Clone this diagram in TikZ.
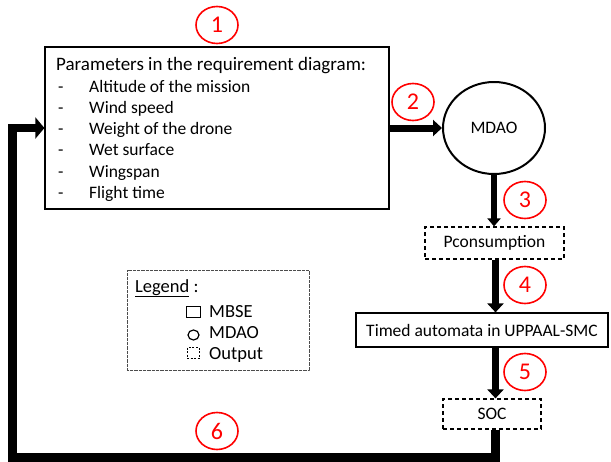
\documentclass[tikz,border=0pt]{standalone}
\usepackage{fontspec}
\setmainfont{Carlito}
\usetikzlibrary{arrows.meta,shapes.geometric}
\begin{document}
\begin{tikzpicture}[x=1pt,y=-1pt,
  box/.style={draw, line width=1.2pt, inner sep=0pt},
  outbox/.style={draw, dash pattern=on 4pt off 3pt, line width=1.2pt, inner sep=0pt},
  num/.style={ellipse, draw=red, line width=1.6pt, text=red, minimum width=42pt, minimum height=37pt, inner sep=0pt, font=\fontsize{24}{24}\selectfont},
  flow/.style={line width=7pt, -{Triangle[length=9pt,width=16pt]}},
  ret/.style={line width=8.5pt, -{Triangle[length=9pt,width=21pt]}},
  lbl/.style={font=\fontsize{17.5}{17.5}\selectfont, inner sep=0pt},
  ttl/.style={font=\fontsize{19}{19}\selectfont, inner sep=0pt},
  leg/.style={font=\fontsize{18.5}{18.5}\selectfont, inner sep=0pt},
]
\useasboundingbox (0,0) rectangle (611,461);
% main parameter box
\node[box, minimum width=344pt, minimum height=162pt] (params) at (217,128) {};
\node[ttl, anchor=base west] (t0) at (56,70.7) {Parameters in the requirement diagram:};
\node[lbl, anchor=base west] (d1) at (58,92.3) {-};
\node[lbl, anchor=base west] (i1) at (89,92.3) {Altitude of the mission};
\node[lbl, anchor=base west] (d2) at (58,113.5) {-};
\node[lbl, anchor=base west] (i2) at (89,113.5) {Wind speed};
\node[lbl, anchor=base west] (d3) at (58,134.7) {-};
\node[lbl, anchor=base west] (i3) at (89,134.7) {Weight of the drone};
\node[lbl, anchor=base west] (d4) at (58,155.9) {-};
\node[lbl, anchor=base west] (i4) at (89,155.9) {Wet surface};
\node[lbl, anchor=base west] (d5) at (58,177.1) {-};
\node[lbl, anchor=base west] (i5) at (89,177.1) {Wingspan};
\node[lbl, anchor=base west] (d6) at (58,198.3) {-};
\node[lbl, anchor=base west] (i6) at (89,198.3) {Flight time};
% flow nodes
\node[ellipse, draw, line width=2pt, minimum width=102pt, minimum height=92pt, lbl] (mdao) at (494,128) {MDAO};
\node[outbox, lbl, minimum width=139pt, minimum height=32pt] (pcons) at (494.5,243) {Pconsumption};
\node[box, lbl, minimum width=252pt, minimum height=34pt] (timed) at (482,330) {Timed automata in UPPAAL-SMC};
\node[outbox, lbl, minimum width=98pt, minimum height=30pt] (soc) at (492,414) {SOC};
\coordinate (col) at (495.5,0);
\coordinate (corner) at (12.5,457.5);
% connectors
\draw[flow] (params.east) -- (mdao.west);
\draw[flow, line width=6.5pt, -{Triangle[length=8pt,width=13pt]}] (mdao.south) -- (mdao.south |- pcons.north);
\draw[flow] (col |- pcons.south) -- (col |- timed.north);
\draw[flow] (col |- timed.south) -- (col |- soc.north);
\draw[ret] (col |- soc.south) |- (corner) |- (params.west);
% numbers
\node[num] (n1) at (217,25) {1};
\node[num] (n2) at (413,102) {2};
\node[num] (n3) at (525,200) {3};
\node[num] (n4) at (525,285) {4};
\node[num] (n5) at (525,372) {5};
\node[num] (n6) at (217,431) {6};
% legend
\node[draw=black!70, line width=0.9pt, dash pattern=on 0.7pt off 0.6pt, minimum width=182pt, minimum height=100pt, inner sep=0pt] (legend) at (218,320) {};
\node[leg, anchor=base west] (legt) at (135,292) {\underline{Legend} :};
\node[draw, line width=1pt, minimum width=14pt, minimum height=11pt, inner sep=0pt] (s1) at (193,312) {};
\node[ellipse, draw, line width=1.2pt, minimum width=11pt, minimum height=10pt, inner sep=0pt] (s2) at (193.5,335) {};
\node[draw, line width=1pt, dash pattern=on 2pt off 1.5pt, minimum width=12pt, minimum height=11pt, inner sep=0pt] (s3) at (193,353) {};
\node[leg, anchor=base west] (l1) at (209,317) {MBSE};
\node[leg, anchor=base west] (l2) at (209,338) {MDAO};
\node[leg, anchor=base west] (l3) at (209,359) {Output};
\end{tikzpicture}
\end{document}
